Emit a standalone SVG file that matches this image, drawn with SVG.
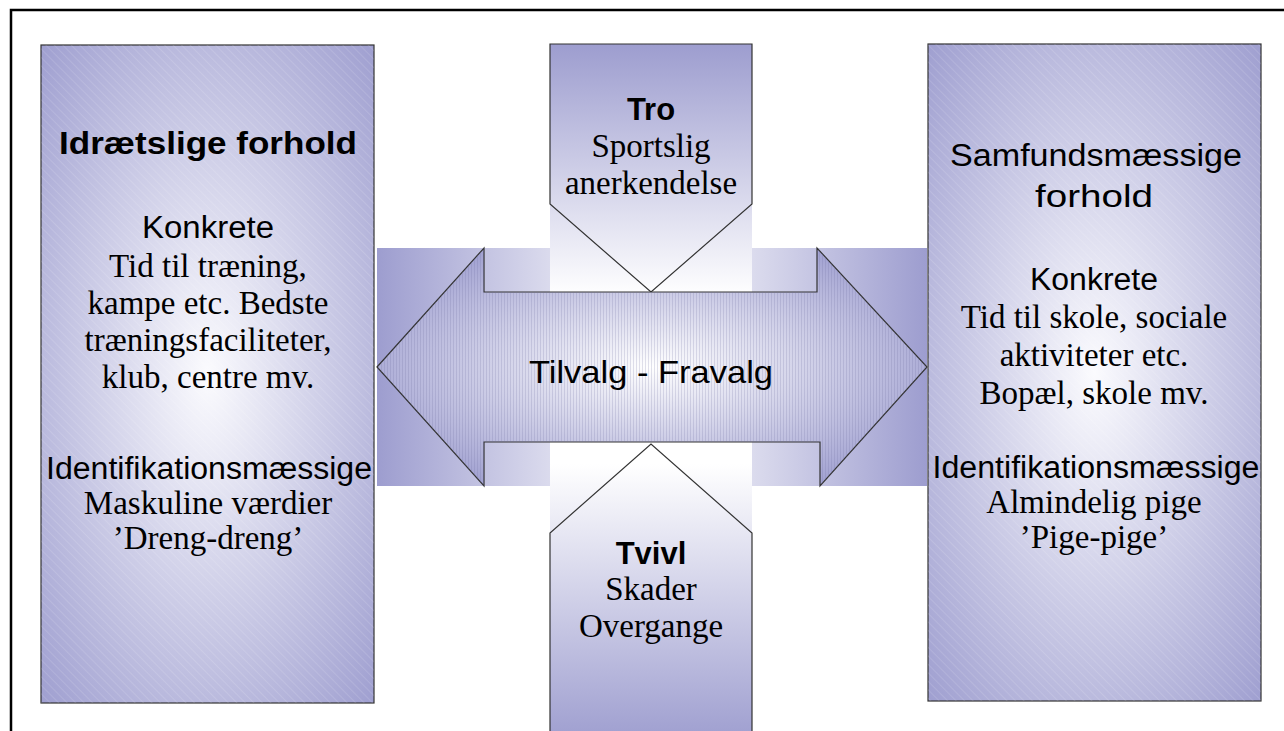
<svg xmlns="http://www.w3.org/2000/svg" width="1284" height="731" viewBox="0 0 1284 731">
<defs>
<style>
.sans{font-family:"Liberation Sans",Arial,sans-serif;fill:#000;text-anchor:middle}
.serif{font-family:"Liberation Serif","Times New Roman",serif;fill:#000;text-anchor:middle;font-size:33px}
.h{font-size:31px}
.b{font-weight:bold}
.edge{stroke:#333;stroke-width:1.2}
</style>
<radialGradient id="boxG" cx="0.5" cy="0.5" r="0.72">
<stop offset="0" stop-color="#fbfbfe"/>
<stop offset="1" stop-color="#9d9dcf"/>
</radialGradient>
<linearGradient id="bandG" x1="0" y1="0" x2="1" y2="0">
<stop offset="0" stop-color="#9d9dcf"/>
<stop offset="0.5" stop-color="#ffffff"/>
<stop offset="1" stop-color="#9d9dcf"/>
</linearGradient>
<linearGradient id="colG" x1="0" y1="0" x2="0" y2="1">
<stop offset="0" stop-color="#9d9dcf"/>
<stop offset="0.36" stop-color="#ffffff"/>
<stop offset="0.6" stop-color="#ffffff"/>
<stop offset="1" stop-color="#9d9dcf"/>
</linearGradient>
<radialGradient id="arrG" cx="0.5" cy="0.5" r="0.6">
<stop offset="0" stop-color="#ffffff"/>
<stop offset="1" stop-color="#9d9dcf"/>
</radialGradient>
<pattern id="diag" width="6" height="6" patternUnits="userSpaceOnUse" patternTransform="rotate(-45)">
<line x1="0" y1="0" x2="0" y2="6" stroke="#ffffff" stroke-width="1" stroke-opacity="0.25"/>
</pattern>
<pattern id="vert" width="3" height="3" patternUnits="userSpaceOnUse">
<line x1="0.5" y1="0" x2="0.5" y2="3" stroke="#6f6f9f" stroke-width="0.6" stroke-opacity="0.35"/>
</pattern>
</defs>
<rect x="0" y="0" width="1284" height="731" fill="#fff"/>
<path d="M11 731 V10 H1284" fill="none" stroke="#000" stroke-width="2.5"/>

<g id="left-box">
<rect x="41" y="45" width="333" height="658" fill="url(#boxG)" class="edge"/>
<rect x="41" y="45" width="333" height="658" fill="url(#diag)"/>
<text class="sans h b" x="208" y="154" textLength="298" lengthAdjust="spacingAndGlyphs">Idrætslige forhold</text>
<text class="sans h" x="208" y="238" textLength="132" lengthAdjust="spacingAndGlyphs">Konkrete</text>
<text class="serif" x="208" y="277">Tid til træning,</text>
<text class="serif" x="208" y="314">kampe etc. Bedste</text>
<text class="serif" x="208" y="351">træningsfaciliteter,</text>
<text class="serif" x="208" y="388">klub, centre mv.</text>
<text class="sans h" x="209" y="479" textLength="326" lengthAdjust="spacingAndGlyphs">Identifikationsmæssige</text>
<text class="serif" x="208" y="514">Maskuline værdier</text>
<text class="serif" x="208" y="549">’Dreng-dreng’</text>
</g>

<g id="right-box">
<rect x="928" y="44" width="333" height="657" fill="url(#boxG)" class="edge"/>
<rect x="928" y="44" width="333" height="657" fill="url(#diag)"/>
<text class="sans h" x="1096" y="166" textLength="292" lengthAdjust="spacingAndGlyphs">Samfundsmæssige</text>
<text class="sans h" x="1094" y="207" textLength="118" lengthAdjust="spacingAndGlyphs">forhold</text>
<text class="sans h" x="1094" y="290" textLength="128" lengthAdjust="spacingAndGlyphs">Konkrete</text>
<text class="serif" x="1094" y="328">Tid til skole, sociale</text>
<text class="serif" x="1094" y="366">aktiviteter etc.</text>
<text class="serif" x="1094" y="404">Bopæl, skole mv.</text>
<text class="sans h" x="1096" y="478" textLength="327" lengthAdjust="spacingAndGlyphs">Identifikationsmæssige</text>
<text class="serif" x="1094" y="513">Almindelig pige</text>
<text class="serif" x="1094" y="548">’Pige-pige’</text>
</g>

<g id="band">
<rect x="377" y="248" width="550" height="238" fill="url(#bandG)"/>
<rect x="550" y="44" width="202" height="700" fill="url(#colG)"/>
</g>

<g id="tro">
<path d="M550 44 H752 V204 L651 292 L550 204 Z" fill="none" class="edge"/>
<text class="sans h b" x="651" y="120">Tro</text>
<text class="serif" x="651" y="157">Sportslig</text>
<text class="serif" x="651" y="194">anerkendelse</text>
</g>

<g id="tvivl">
<path d="M550 740 V533 L651 444 L752 533 V740" fill="none" class="edge"/>
<text class="sans h b" x="651" y="564">Tvivl</text>
<text class="serif" x="651" y="600">Skader</text>
<text class="serif" x="651" y="637">Overgange</text>
</g>

<g id="connectors">
<path id="arrow" d="M377 367 L484 248 V292 H817 V248 L927 367 L820 486 V442 H484 V486 Z" fill="url(#arrG)" class="edge"/>
<path d="M377 367 L484 248 V292 H817 V248 L927 367 L820 486 V442 H484 V486 Z" fill="url(#vert)"/>
<text class="sans" x="651" y="383" font-size="32" textLength="244" lengthAdjust="spacingAndGlyphs">Tilvalg - Fravalg</text>
</g>
</svg>
